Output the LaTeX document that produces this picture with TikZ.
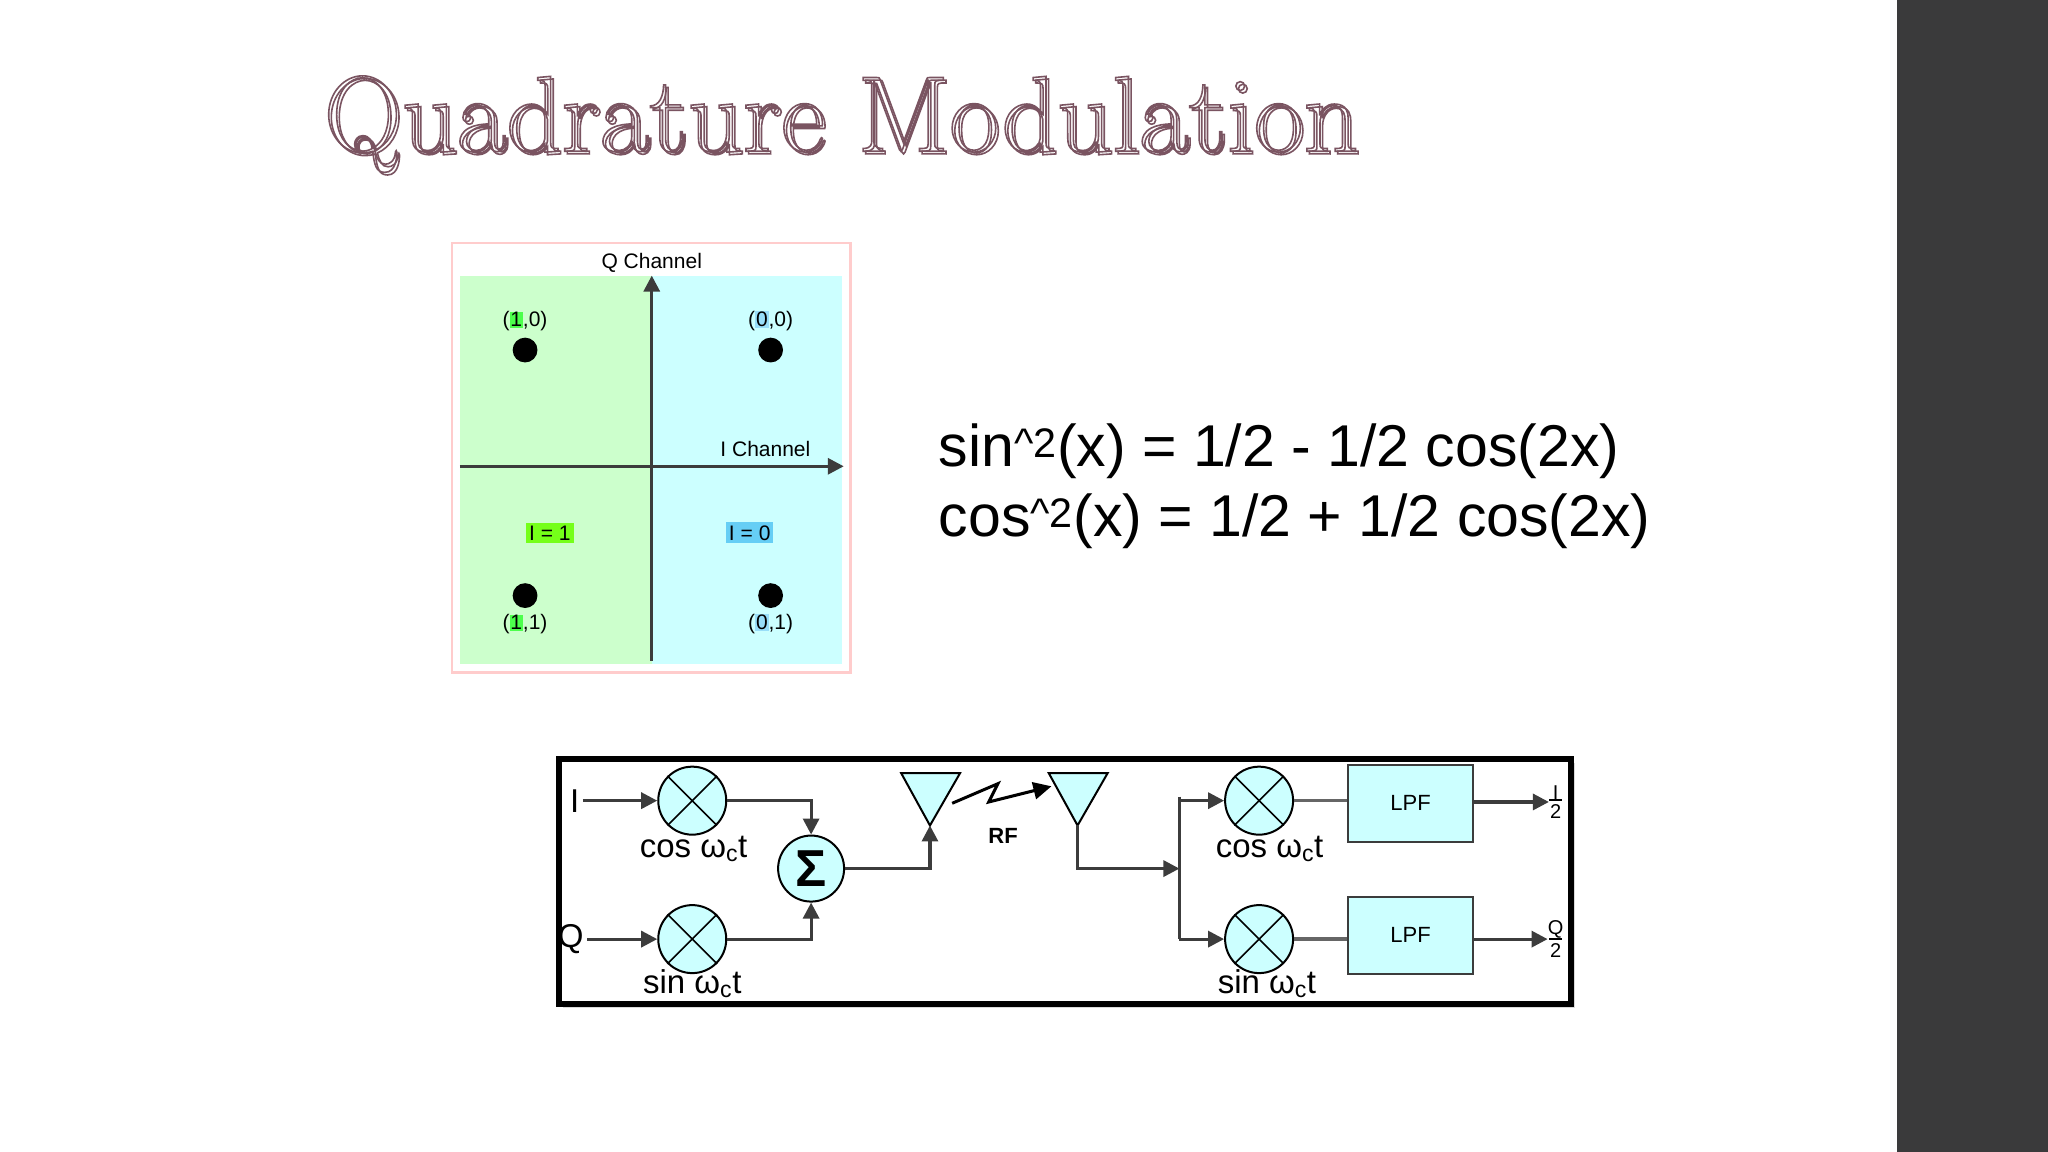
\documentclass[tikz,border=0pt]{standalone}
\usepackage{fontspec}
\newfontfamily\arial{Liberation Sans}
\usetikzlibrary{positioning,arrows.meta}
\definecolor{sidebar}{HTML}{3A3A3B}
\definecolor{wire}{HTML}{3C3C3C}
\definecolor{cyanbox}{HTML}{CCFFFF}
\definecolor{lgreen}{HTML}{CCFFCC}
\newcommand\outl[1]{\special{pdf:literal direct 1 Tr 1.6 w 0.48 0.33 0.38 RG}#1\special{pdf:literal direct 0 Tr}}
\newcommand\hl[2]{{\setlength\fboxsep{0.8pt}\colorbox{#1}{#2}}}
\newcommand\halfof[1]{\shortstack{#1\\[-3pt]\rule{13pt}{1.5pt}\\[1pt]2}}
\tikzset{
  sig/.style={draw=wire,line width=3.2pt},
  sigarr/.style={sig,-{Triangle[length=16pt,width=16pt]}},
  mixer/.style={circle,draw=black,line width=2pt,fill=cyanbox,minimum size=68pt,inner sep=0pt},
  lpf/.style={draw=wire,line width=2pt,fill=cyanbox,minimum width=125pt,minimum height=77pt,font=\arial\fontsize{22}{22}\selectfont},
  lbl/.style={font=\arial\fontsize{33}{33}\selectfont},
  clbl/.style={font=\arial\fontsize{21}{21}\selectfont,inner sep=1pt},
  outlbl/.style={font=\arial\fontsize{20}{20}\selectfont,inner sep=0pt}
}
\begin{document}
\begin{tikzpicture}[x=1.306pt,y=-1.306pt]
\useasboundingbox (0,0) rectangle (1568,882);
\fill[white] (0,0) rectangle (1568,882);
\fill[sidebar] (1452,0) rectangle (1568,882);

% title
\node[text=gray!25] at (646,97) {\fontsize{108}{108}\selectfont\outl{Quadrature Modulation}};
\node[text=white] (title) at (644,95) {\fontsize{108}{108}\selectfont\outl{Quadrature Modulation}};

% constellation
\draw[red!20,line width=2.6pt] (346,186) rectangle (651,515);
\fill[lgreen] (352,211) rectangle (499,508);
\fill[cyanbox] (499,211) rectangle (645,508);
\draw[sigarr] (499,506) -- (499,211);
\draw[sigarr] (352,357) -- (646,357);
\node[clbl] (qch) at (499,201) {Q Channel};
\node[clbl] (ich) at (586,344) {I Channel};
\foreach \x/\y in {402/268,590/268,402/456,590/456}
  \fill (\x,\y) circle (9.5);
\node[clbl] (p10) at (402,246) {(\hl{green!70}{1},0)};
\node[clbl] (p00) at (590,246) {(\hl{cyan!40}{0},0)};
\node[clbl] (p11) at (402,478) {(\hl{green!70}{1},1)};
\node[clbl] (p01) at (590,478) {(\hl{cyan!40}{0},1)};
\node[clbl,fill=green!60!yellow!90,inner sep=3pt] (i1) at (421,408) {I = 1};
\node[clbl,fill=cyan!60,inner sep=3pt] (i0) at (574,408) {I = 0};

% identities
\node[anchor=base west,font=\arial\fontsize{59}{59}\selectfont] (eq1) at (716,357)
  {sin\textsuperscript{\textasciicircum2}(x) = 1/2 - 1/2 cos(2x)};
\node[anchor=base west,font=\arial\fontsize{59}{59}\selectfont] (eq2) at (716,411)
  {cos\textsuperscript{\textasciicircum2}(x) = 1/2 + 1/2 cos(2x)};

% block diagram
\fill[gray!30] (431,584) rectangle (1206,772);
\draw[line width=6pt,fill=white] (428,581) rectangle (1203,769);
\node[mixer] (m1) at (530,613) {};
\node[mixer] (m2) at (530,719) {};
\node[mixer] (m3) at (964,613) {};
\node[mixer] (m4) at (964,719) {};
\foreach \m in {m1,m2,m3,m4}{
  \draw[line width=1.6pt] (\m.north east) -- (\m.south west);
  \draw[line width=1.6pt] (\m.north west) -- (\m.south east);
}
\node[mixer,minimum size=66pt] (sum) at (621,665) {\arial\fontsize{52}{52}\selectfont\textbf{Σ}};
\node[lbl] (inI) at (440,613) {I};
\node[lbl] (inQ) at (437,719) {Q};
\node[lbl] (c1) at (531,650) {cos ω\textsubscript{c}t};
\node[lbl] (s1) at (530,753) {sin ω\textsubscript{c}t};
\node[lbl] (c2) at (972,650) {cos ω\textsubscript{c}t};
\node[lbl] (s2) at (970,753) {sin ω\textsubscript{c}t};
\draw[sigarr] (inI) -- (m1);
\draw[sigarr] (inQ) -- (m2);
\draw[sigarr] (m1.east) -| (sum.north);
\draw[sigarr] (m2.east) -| (sum.south);

% antennas
\coordinate (tx) at (712,632);
\coordinate (rx) at (825,632);
\draw[line width=2pt,fill=cyanbox] (690,592) -- (735,592) -- (tx) -- cycle;
\draw[line width=2pt,fill=cyanbox] (803,592) -- (848,592) -- (rx) -- cycle;
\draw[sigarr] (sum.east) -| (tx);
\draw[line width=3pt,-{Triangle[length=18pt,width=17pt]}] (729,615) -- (764,600) -- (757,614) -- (805,602);
\node[font=\arial\bfseries\fontsize{22}{22}\selectfont] (rf) at (768,640) {RF};
\coordinate (split) at (903,665);
\draw[sigarr] (rx) |- (split);
\draw[sig] (903,610) -- (903,719);
\draw[sigarr] (903,613) -- (m3.west);
\draw[sigarr] (903,719) -- (m4.west);

\node[lpf] (lpf1) at (1080,615) {LPF};
\node[lpf] (lpf2) at (1080,716) {LPF};
\draw[sig,line width=3.5pt,draw=gray!80!black] (m3) -- (lpf1.west |- m3);
\draw[sig,line width=3.5pt,draw=gray!80!black] (m4) -- (lpf2.west |- m4);
\node[outlbl] (outI) at (1191,614) {\halfof{I}};
\node[outlbl] (outQ) at (1191,719) {\halfof{Q}};
\draw[sigarr] (lpf1.east |- outI) -- (outI.west);
\draw[sigarr] (lpf2.east |- outQ) -- (outQ.west);
\end{tikzpicture}
\end{document}
